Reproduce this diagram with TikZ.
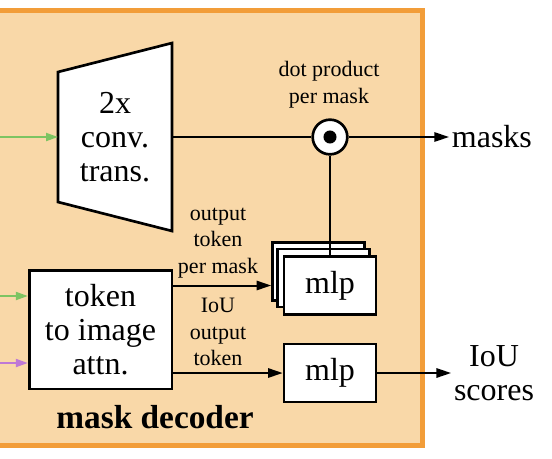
\documentclass[tikz,border=0pt]{standalone}
\usepackage{fontspec}
\setmainfont{Liberation Serif}
\usetikzlibrary{arrows.meta}

\definecolor{decfill}{RGB}{249,216,168}
\definecolor{decline}{RGB}{242,157,57}
\definecolor{imggreen}{RGB}{125,196,98}
\definecolor{promptpurple}{RGB}{190,120,214}

\tikzset{
  blk/.style={draw, fill=white, line width=2pt, inner sep=0pt},
  mlpbox/.style={blk, minimum width=69pt, minimum height=43.5pt},
  arr/.style={line width=1.5pt, -{Triangle[length=11pt,width=7pt]}},
  inarr/.style={line width=1.5pt, -{Triangle[length=9pt,width=6pt]}},
  bigtxt/.style={font=\fontsize{24}{25.5}\selectfont, align=center},
  smalltxt/.style={font=\fontsize{16.5}{20}\selectfont, align=center},
}

\begin{document}
\begin{tikzpicture}[x=0.75pt,y=0.75pt,yscale=-1]
\clip (0,0) rectangle (552,458);
\draw [decline, line width=3.75pt, fill=decfill] (-20,10.5) rectangle (422.5,445);

\draw [blk] (58,72) -- (172,43) -- (172,231) -- (58,202) -- cycle;
\node [bigtxt] (deconv) at (115,137) {2x\\conv.\\trans.};
\coordinate (deconvin) at (58,137);
\coordinate (deconvout) at (172,137);

\node [blk, circle, minimum size=26pt] (dot) at (330,137) {};
\fill (dot) circle (4.9pt);
\node [smalltxt] (dotlbl) at (329,85) {dot product\\per mask};
\node [bigtxt, anchor=west, inner sep=2pt] (masks) at (449,137) {masks};

\node [mlpbox] (mlp3) at (318.5,271.5) {};
\node [mlpbox] (mlp2) at (323.5,278) {};
\node [mlpbox, bigtxt] (mlp1) at (330,285.5) {mlp};

\node [blk, bigtxt, minimum width=107pt, minimum height=89pt] (attn) at (100.5,329.5) {token\\to image\\attn.};
\node [mlpbox, bigtxt] (mlpiou) at (330,373) {mlp};

\node [smalltxt] (outlbl) at (218,243) {output\\token\\per mask};
\node [smalltxt] (ioulbl) at (218,332) {IoU\\output\\token};
\node [bigtxt, inner sep=2pt] (scores) at (494,373) {IoU\\scores};
\node [font=\fontsize{25}{25}\selectfont\bfseries] (title) at (155,417) {mask decoder};

\coordinate (imgin) at (0,137);
\coordinate (imgin2) at (0,296);
\coordinate (promptin) at (0,363);

\draw [inarr, imggreen] (imgin) -- (deconvin);
\draw [inarr, imggreen] (imgin2) -- (imgin2 -| attn.west);
\draw [inarr, promptpurple] (promptin) -- (promptin -| attn.west);

\draw [line width=1.5pt] (deconvout) -- (dot);
\draw [arr] (dot) -- (masks);
\draw [line width=1.5pt] (dot) -- (mlp1.north);
\draw [arr] (mlp1 -| attn.east) -- (mlp1 -| mlp3.west);
\draw [arr] (mlpiou -| attn.east) -- (mlpiou);
\draw [arr] (mlpiou) -- (scores);
\end{tikzpicture}
\end{document}
